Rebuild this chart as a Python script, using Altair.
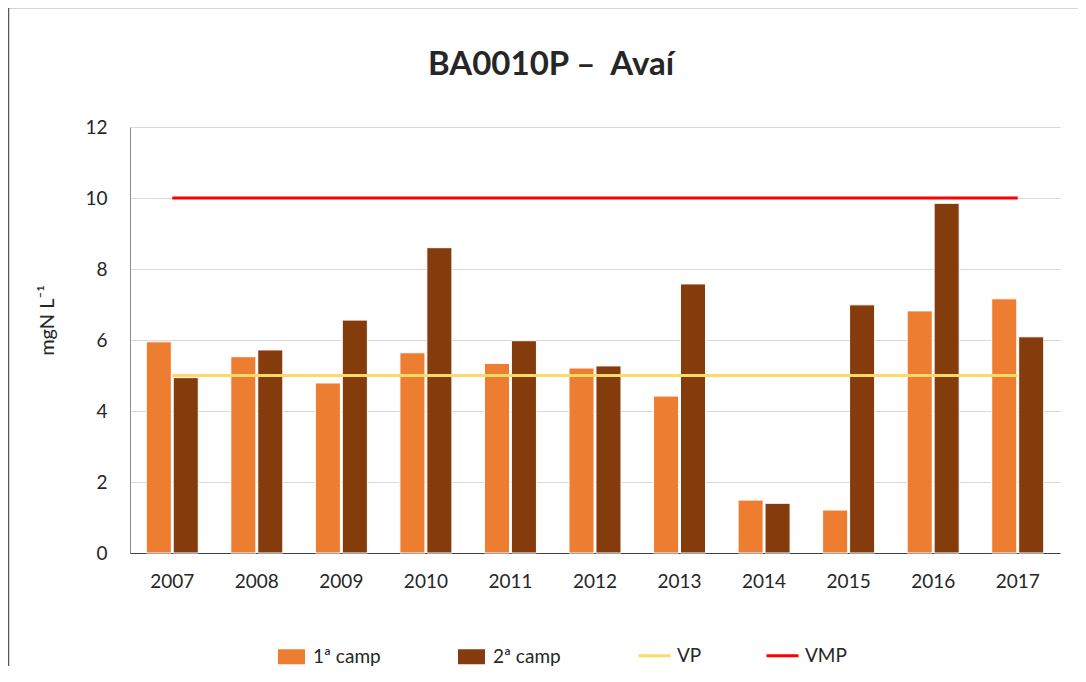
import altair as alt
import pandas as pd

# ---- data ----
YEARS = ["2007", "2008", "2009", "2010", "2011", "2012", "2013", "2014", "2015", "2016", "2017"]
CAMP1 = [5.95, 5.53, 4.79, 5.64, 5.34, 5.21, 4.42, 1.49, 1.21, 6.82, 7.16]
CAMP2 = [4.94, 5.72, 6.56, 8.60, 5.98, 5.27, 7.58, 1.40, 6.99, 9.85, 6.09]
SERIES = ["1ª camp", "2ª camp"]
REF_NAMES = ["VP", "VMP"]
REF_VALUES = [5.0, 10.0]
Y_TICKS = [0, 2, 4, 6, 8, 10, 12]
TITLE = "BA0010P –\u00a0 Avaí"
Y_TITLE = "mgN L⁻¹"

BAR_COLORS = ["#ED7D31", "#843C0C"]
REF_COLORS = ["#FFD966", "#FF0000"]
FONT = "Lato"
TEXT_COLOR = "#262626"

bars_df = pd.DataFrame({
    "ano": YEARS * 2,
    "serie": [SERIES[0]] * len(YEARS) + [SERIES[1]] * len(YEARS),
    "valor": CAMP1 + CAMP2,
})
ref_df = pd.DataFrame({
    "ano": YEARS * 2,
    "ref": [REF_NAMES[0]] * len(YEARS) + [REF_NAMES[1]] * len(YEARS),
    "valor": [REF_VALUES[0]] * len(YEARS) + [REF_VALUES[1]] * len(YEARS),
})

x_enc = alt.X(
    "ano:N", sort=YEARS,
    scale=alt.Scale(paddingInner=0.385, paddingOuter=0.1925),
    axis=alt.Axis(title=None, labelAngle=0, ticks=False, grid=False,
                  domainColor="#404040", domainWidth=1, labelPadding=19),
)
y_enc = alt.Y(
    "valor:Q",
    scale=alt.Scale(domain=[0, 12], nice=False),
    axis=alt.Axis(values=Y_TICKS, title=Y_TITLE, grid=True, gridColor="#d9d9d9",
                  ticks=False, domainColor="#8c8c8c", labelPadding=23,
                  titleFontSize=20, titleFontWeight="normal", titleFont=FONT,
                  titleColor=TEXT_COLOR, titleX=-83, titleY=193, titleAngle=270,
                  titleAlign="center", titleBaseline="middle"),
)

bars = alt.Chart(bars_df).mark_bar(stroke="white", strokeWidth=1).encode(
    x=x_enc,
    xOffset=alt.XOffset("serie:N", sort=SERIES,
                        scale=alt.Scale(paddingInner=0.07, paddingOuter=0)),
    y=y_enc,
    fill=alt.Fill("serie:N", scale=alt.Scale(domain=SERIES, range=BAR_COLORS),
                  legend=alt.Legend(title=None, orient="none", legendX=152, legendY=520,
                                    direction="horizontal",
                                    symbolType="M-1.8,-1H1.8V1H-1.8Z", symbolSize=225,
                                    symbolStrokeWidth=0, labelOffset=12, columnPadding=77)),
)

lines = alt.Chart(ref_df).mark_line(strokeWidth=3).encode(
    x=alt.X("ano:N", sort=YEARS),
    y=alt.Y("valor:Q"),
    stroke=alt.Stroke("ref:N", scale=alt.Scale(domain=REF_NAMES, range=REF_COLORS),
                      legend=alt.Legend(title=None, orient="none", legendX=507, legendY=511,
                                        direction="horizontal", symbolType="stroke",
                                        symbolSize=1024, symbolStrokeWidth=3,
                                        labelOffset=5, columnPadding=58)),
)

frame = alt.Chart(pd.DataFrame({"f": [0]})).mark_rect(
    fillOpacity=0, stroke="#595959", strokeWidth=1.5
).encode(x=alt.value(-121.5), x2=alt.value(1000), y=alt.value(-119.5), y2=alt.value(700))

title = alt.Chart(pd.DataFrame({"t": [TITLE]})).mark_text(
    font=FONT, fontSize=33, fontWeight="bold", color=TEXT_COLOR,
    align="center", baseline="alphabetic"
).encode(text="t:N", x=alt.value(421), y=alt.value(-52))

chart = alt.layer(frame, bars, lines, title).properties(
    width=930, height=426,
    autosize=alt.AutoSizeParams(type="none"),
    padding={"left": 122, "top": 119, "right": 18, "bottom": 113},
).configure(
    background="white",
).configure_view(
    stroke=None,
).configure_axis(
    labelFont=FONT, labelFontSize=19, labelColor=TEXT_COLOR,
).configure_legend(
    labelFont=FONT, labelFontSize=19, labelColor=TEXT_COLOR,
)

chart.save("out.html", embed_options={"renderer": "svg", "actions": False})
